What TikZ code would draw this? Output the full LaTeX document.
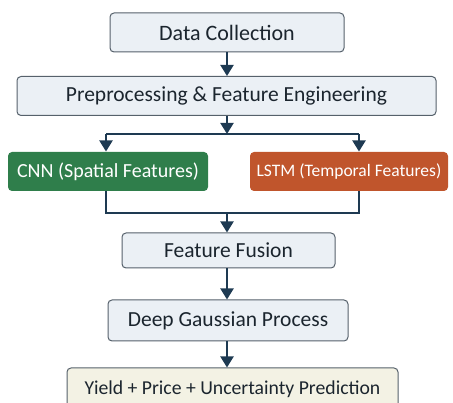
\documentclass[tikz,border=0pt]{standalone}
\usepackage{fontspec}
\setmainfont{Carlito}
\usetikzlibrary{arrows.meta}

\definecolor{boxfill}{HTML}{EBF0F5}
\definecolor{boxline}{HTML}{56616B}
\definecolor{arrowcol}{HTML}{1E3A52}
\definecolor{textdark}{HTML}{1B252E}
\definecolor{cnngreen}{HTML}{2F7E4B}
\definecolor{lstmred}{HTML}{C0552C}
\definecolor{outfill}{HTML}{F3F2E4}

\begin{document}
\begin{tikzpicture}[x = 1pt, y = -1pt,
	box/.style = {draw = boxline, fill = boxfill, rounded corners = 4pt, line width = 1pt,
		minimum height = 39pt, inner sep = 2pt, text = textdark, font = \fontsize{21.5}{24}\selectfont},
	model/.style = {box, draw = none, text = white},
	arr/.style = {-{Triangle[width = 13pt, length = 11pt]}, line width = 2pt, draw = arrowcol},
	link/.style = {line width = 1.6pt, draw = arrowcol}]
	\useasboundingbox (0,0) rectangle (453,403);

	\node[box, minimum width = 234pt, font = \fontsize{22}{24}\selectfont] (collect) at (227,32.5) {Data Collection};
	\node[box, minimum width = 419pt] (prep) at (226.5,96) {Preprocessing \& Feature Engineering};

	\node[model, fill = cnngreen, minimum width = 200pt, font = \fontsize{20}{22}\selectfont] (cnn) at (108,171.5) {CNN (Spatial Features)};
	\node[model, fill = lstmred, minimum width = 198pt, font = \fontsize{17.5}{22}\selectfont] (lstm) at (349,171.5) {LSTM (Temporal Features)};

	\node[box, minimum width = 213pt, minimum height = 35pt] (fusion) at (228.5,250.5) {Feature Fusion};
	\node[box, minimum width = 240pt, minimum height = 41pt] (dgp) at (228,320.5) {Deep Gaussian Process};
	\node[box, fill = outfill, minimum width = 331pt, minimum height = 42pt, font = \fontsize{19.7}{22}\selectfont] (pred) at (232.5,389) {Yield + Price + Uncertainty Prediction};

	% split and merge points
	\coordinate (split) at (227,134);
	\coordinate (splitL) at (106,134);
	\coordinate (splitR) at (359,134);
	\coordinate (join) at (227,213);
	\coordinate (joinL) at (106,213);
	\coordinate (joinR) at (359,213);

	\draw[arr] (collect) -- (collect |- prep.north);
	\draw[arr] (split |- prep.south) -- (split);
	\draw[link] (splitL) -- (splitR);
	\draw[arr] (splitL) -- (splitL |- cnn.north);
	\draw[arr] (splitR) -- (splitR |- lstm.north);

	\draw[link] (splitL |- cnn.south) -- (joinL) -- (joinR) -- (splitR |- lstm.south);
	\draw[arr] (join) -- (join |- fusion.north);
	\draw[arr] (join |- fusion.south) -- (join |- dgp.north);
	\draw[arr] (join |- dgp.south) -- (join |- pred.north);
\end{tikzpicture}
\end{document}
